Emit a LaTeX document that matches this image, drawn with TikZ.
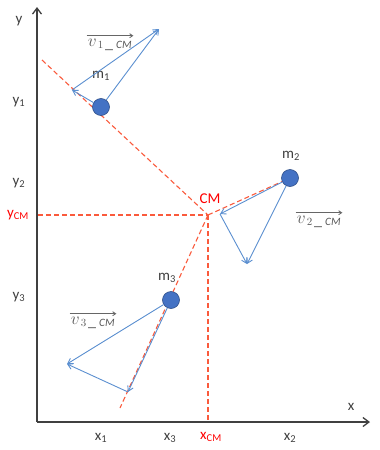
\documentclass[tikz,border=0pt]{standalone}
\usepackage{fontspec}
\setmainfont{Carlito}
\usetikzlibrary{arrows.meta}
\definecolor{vblu}{RGB}{91,143,208}
\definecolor{mblu}{RGB}{68,114,196}
\definecolor{cmros}{RGB}{250,90,60}
\tikzset{
  vec/.style={vblu,line width=0.9pt,-{Straight Barb[length=5pt,width=6pt]}},
  massa/.style={circle,fill=mblu,draw=mblu!70!black,line width=0.6pt,minimum size=17pt,inner sep=0pt},
  tratt/.style={cmros,line width=1.1pt,dash pattern=on 5pt off 3pt},
  etich/.style={font=\fontsize{15}{17}\selectfont,text=black!75},
  etrossa/.style={font=\fontsize{15}{17}\selectfont,text=red},
  vlab/.style={font=\fontsize{16}{18}\selectfont,text=black!65,inner sep=1pt},
  freccia/.style={black!60,line width=0.8pt,-{Straight Barb[length=3pt,width=4pt]}}
}
\begin{document}
\begin{tikzpicture}[x=1pt,y=-1pt]
        \useasboundingbox (0,0) rectangle (380,450);
        %assi
        \coordinate (O) at (37,422);
        \coordinate (ytop) at (37,7);
        \coordinate (xend) at (370,422);
        \draw[black!75,line width=1.3pt,-{Straight Barb[length=6pt,width=9pt]}](O)--(ytop);
        \draw[black!75,line width=1.3pt,-{Straight Barb[length=6pt,width=9pt]}](O)--(xend);
        \node[etich] (ly) at (19,21) {y};
        \node[etich] (lx) at (351,407) {x};
        %centro di massa
        \coordinate (CM) at (208,215);
        \coordinate (yCM) at (38,215);
        \coordinate (xCM) at (208,421);
        \coordinate (d1) at (42,60);
        \coordinate (d3) at (120,408);
        \draw[tratt](d1)--(CM); %retta m1-CM
        \draw[tratt](yCM)--(CM);
        \draw[tratt](CM)--(xCM);
        \draw[tratt](CM)--(d3); %retta CM-m3
        \node[etrossa] (lCM) at (210,199) {CM};
        %masse
        \node[massa] (m1) at (101,107) {};
        \node[massa] (m2) at (290,178) {};
        \node[massa] (m3) at (171,300) {};
        \draw[tratt](CM)--(m2);
        \node[etich] (lm1) at (101,76) {m\textsubscript{1}};
        \node[etich] (lm2) at (291,156) {m\textsubscript{2}};
        \node[etich] (lm3) at (167,278) {m\textsubscript{3}};
        %vettori m1
        \coordinate (a1) at (159,29);
        \coordinate (b1) at (72,90);
        \draw[vec](m1)--(a1);
        \draw[vec](m1)--(b1);
        \draw[vec](b1)--(a1);
        %vettori m2
        \coordinate (a2) at (220,214);
        \coordinate (b2) at (247,264);
        \draw[vec](m2)--(a2);
        \draw[vec](m2)--(b2);
        \draw[vec](a2)--(b2);
        %vettori m3
        \coordinate (a3) at (128,392);
        \coordinate (b3) at (67,364);
        \draw[vec](m3)--(a3);
        \draw[vec](m3)--(b3);
        \draw[vec](a3)--(b3);
        %etichette velocita
        \node[vlab] (v1) at (110,45) {$v_{\,1\,\_\;\mathit{CM}}$};
        \node[vlab] (v2) at (319,222) {$v_{\,2\,\_\;\mathit{CM}}$};
        \node[vlab] (v3) at (93,323) {$v_{\,3\,\_\;\mathit{CM}}$};
        \foreach \v in {v1,v2,v3}
          \draw[freccia]([yshift=2pt]\v.north west)--([yshift=2pt]\v.north east);
        %etichette assi
        \node[etich] (ly1) at (19,102) {y\textsubscript{1}};
        \node[etich] (ly2) at (19,183) {y\textsubscript{2}};
        \node[etrossa] (lyCM) at (18,215) {y\textsubscript{CM}};
        \node[etich] (ly3) at (19,297) {y\textsubscript{3}};
        \node[etich] (lx1) at (101,438) {x\textsubscript{1}};
        \node[etich] (lx3) at (170,438) {x\textsubscript{3}};
        \node[etrossa] (lxCM) at (211,437) {x\textsubscript{CM}};
        \node[etich] (lx2) at (290,438) {x\textsubscript{2}};
    \end{tikzpicture}
\end{document}
